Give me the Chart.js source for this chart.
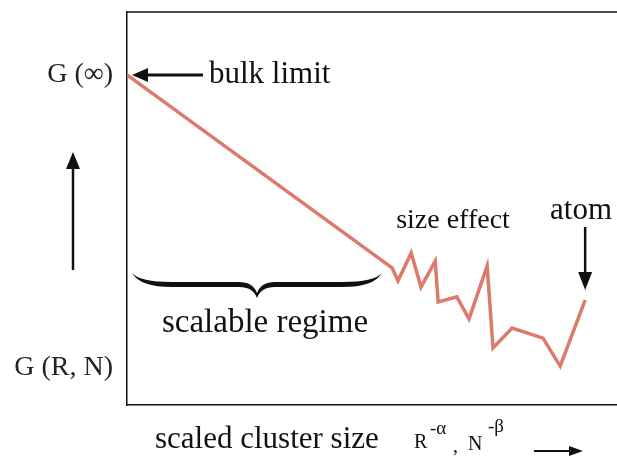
<!DOCTYPE html>
<html>
<head>
<meta charset="utf-8">
<script src="https://cdn.jsdelivr.net/npm/chart.js@4"></script>
<style>
  html, body { margin: 0; padding: 0; background: #fff; }
  #wrap { width: 617px; height: 459px; position: relative; }
</style>
</head>
<body>
<div id="wrap"><canvas id="chart"></canvas></div>
<script>
// scaled cluster size (arbitrary units) and G value (arbitrary units)
const sizes = [0, 54.1, 55.3, 58.0, 60.0, 62.9, 63.5, 67.3, 69.8, 73.5, 74.7, 78.6, 84.9, 88.4, 93.5];
const gValues = [84.0, 34.9, 31.6, 38.7, 30.0, 36.6, 26.2, 27.5, 21.9, 35.4, 14.5, 19.6, 17.0, 9.9, 26.7];
const tickValues = [84.0, 9.4];
const tickLabels = ['G (\u221e)', 'G (R, N)'];

const serif = '"Liberation Serif", "DejaVu Serif", serif';

function arrow(ctx, x1, y1, x2, y2, head, half) {
  const a = Math.atan2(y2 - y1, x2 - x1);
  ctx.beginPath();
  ctx.moveTo(x1, y1);
  ctx.lineTo(x2 - Math.cos(a) * head * 0.8, y2 - Math.sin(a) * head * 0.8);
  ctx.stroke();
  ctx.beginPath();
  ctx.moveTo(x2, y2);
  ctx.lineTo(x2 - Math.cos(a) * head - Math.sin(a) * half, y2 - Math.sin(a) * head + Math.cos(a) * half);
  ctx.lineTo(x2 - Math.cos(a) * head + Math.sin(a) * half, y2 - Math.sin(a) * head - Math.cos(a) * half);
  ctx.closePath();
  ctx.fill();
}

const notes = {
  id: 'notes',
  afterDraw(chart) {
    const ctx = chart.ctx;
    const x = chart.scales.x, y = chart.scales.y;
    const area = chart.chartArea;
    ctx.save();
    ctx.fillStyle = '#111';
    ctx.strokeStyle = '#111';

    // top border of the box
    ctx.lineWidth = 1.5;
    ctx.beginPath();
    ctx.moveTo(area.left, area.top);
    ctx.lineTo(area.right, area.top);
    ctx.stroke();

    // y tick labels
    ctx.fillStyle = '#222';
    ctx.font = '28px ' + serif;
    ctx.textAlign = 'right';
    ctx.textBaseline = 'middle';
    tickValues.forEach((v, i) => ctx.fillText(tickLabels[i], area.left - 14, y.getPixelForValue(v)));
    ctx.fillStyle = '#111';

    // bulk limit
    const bx = x.getPixelForValue(sizes[0]), by = y.getPixelForValue(gValues[0]);
    ctx.lineWidth = 3;
    arrow(ctx, bx + 76, by, bx + 5, by, 16, 7);
    ctx.font = '31px ' + serif;
    ctx.textAlign = 'left';
    ctx.fillText('bulk limit', bx + 82, by);

    // size effect
    ctx.font = '28px ' + serif;
    ctx.textAlign = 'center';
    ctx.fillText('size effect', 453, 221);

    // atom
    const last = sizes.length - 1;
    const ax = x.getPixelForValue(sizes[last]), ay = y.getPixelForValue(gValues[last]);
    ctx.font = '31px ' + serif;
    ctx.fillText('atom', 581, 211);
    ctx.lineWidth = 2.5;
    arrow(ctx, ax, 227, ax, ay - 10, 18, 7);

    // brace under the scalable regime
    const l = 132, r = 382, c = (l + r) / 2, top = 273, mid = 285, tip = 298;
    ctx.beginPath();
    ctx.moveTo(l, top);
    ctx.quadraticCurveTo(l + 8, mid + 2, l + 40, mid + 2);
    ctx.lineTo(c - 18, mid + 2);
    ctx.quadraticCurveTo(c - 4, mid + 2, c, tip);
    ctx.quadraticCurveTo(c + 4, mid + 2, c + 18, mid + 2);
    ctx.lineTo(r - 40, mid + 2);
    ctx.quadraticCurveTo(r - 8, mid + 2, r, top);
    ctx.quadraticCurveTo(r - 8, mid - 3, r - 40, mid - 3);
    ctx.lineTo(c + 18, mid - 3);
    ctx.quadraticCurveTo(c + 4, mid - 3, c, tip - 5);
    ctx.quadraticCurveTo(c - 4, mid - 3, c - 18, mid - 3);
    ctx.lineTo(l + 40, mid - 3);
    ctx.quadraticCurveTo(l + 8, mid - 3, l, top);
    ctx.fill();
    ctx.font = '33px ' + serif;
    ctx.fillText('scalable regime', 265, 323);

    // vertical arrow at the left
    ctx.lineWidth = 2.5;
    arrow(ctx, 73, 270, 73, 152, 17, 7);

    // x title
    ctx.textAlign = 'left';
    ctx.textBaseline = 'alphabetic';
    ctx.font = '31px ' + serif;
    ctx.fillText('scaled cluster size', 155, 448);
    ctx.font = '20px ' + serif;
    ctx.fillText('R', 414, 448);
    ctx.fillText(',', 453, 452);
    ctx.fillText('N', 468, 450);
    ctx.font = '19px ' + serif;
    ctx.fillText('-\u03b1', 430, 434);
    ctx.fillText('-\u03b2', 488, 432);
    ctx.lineWidth = 2;
    arrow(ctx, 534, 451, 583, 451, 14, 5);
    ctx.restore();
  }
};

new Chart(document.getElementById('chart'), {
  type: 'line',
  data: {
    datasets: [{
      data: sizes.map((s, i) => ({ x: s, y: gValues[i] })),
      borderColor: '#dc7a6b',
      borderWidth: 3.5,
      pointRadius: 0,
      tension: 0,
      fill: false
    }]
  },
  options: {
    responsive: true,
    maintainAspectRatio: false,
    animation: false,
    layout: { padding: { top: 12, right: 0, left: 0, bottom: 0 } },
    plugins: { legend: { display: false }, tooltip: { enabled: false } },
    scales: {
      x: {
        type: 'linear',
        min: 0,
        max: 100,
        grid: { display: false, drawTicks: false },
        border: { display: true, color: '#111', width: 1.5 },
        ticks: { display: false },
        afterFit(s) { s.height = 54; }
      },
      y: {
        min: 0,
        max: 100,
        grid: { display: false, drawTicks: false },
        border: { display: true, color: '#111', width: 1.5 },
        ticks: { display: false },
        afterFit(s) { s.width = 127; }
      }
    }
  },
  plugins: [notes]
});
</script>
</body>
</html>
